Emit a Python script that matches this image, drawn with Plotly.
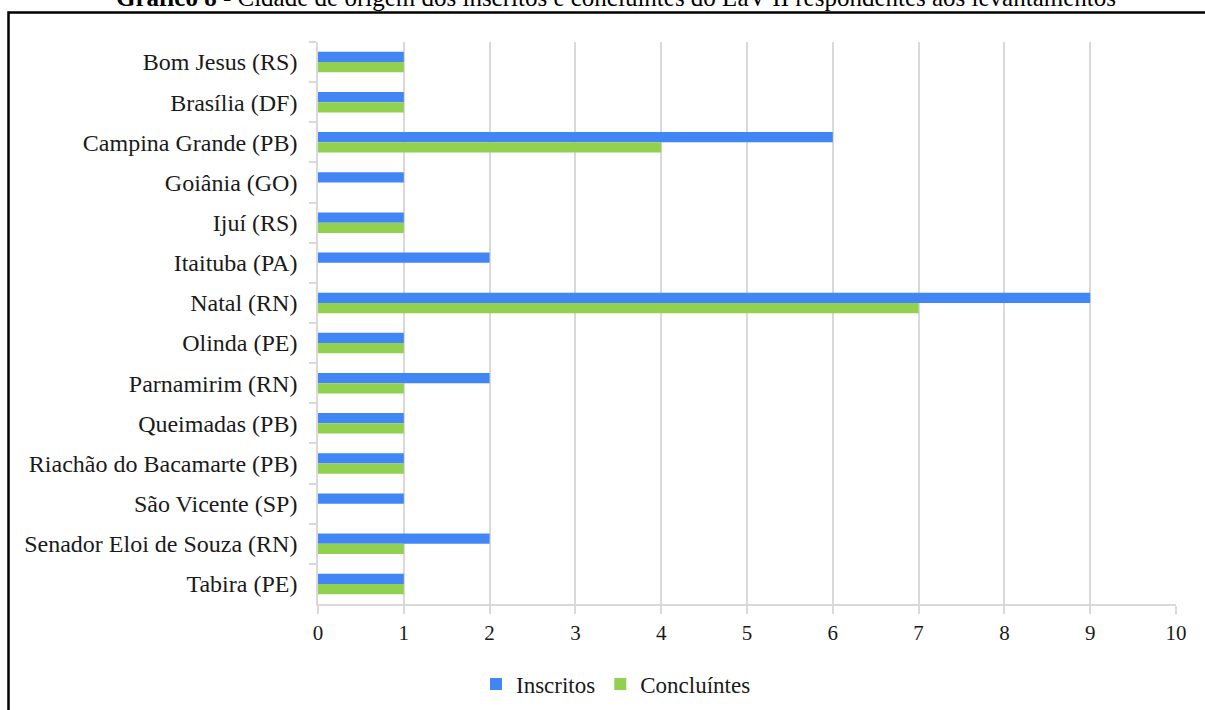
import plotly.graph_objects as go

# City of origin of the respondents (top to bottom)
cidades = [
    "Bom Jesus (RS)", "Brasília (DF)", "Campina Grande (PB)", "Goiânia (GO)",
    "Ijuí (RS)", "Itaituba (PA)", "Natal (RN)", "Olinda (PE)",
    "Parnamirim (RN)", "Queimadas (PB)", "Riachão do Bacamarte (PB)",
    "São Vicente (SP)", "Senador Eloi de Souza (RN)", "Tabira (PE)",
]
inscritos = [1, 1, 6, 1, 1, 2, 9, 1, 2, 1, 1, 1, 2, 1]
concluintes = [1, 1, 4, 0, 1, 0, 7, 1, 1, 1, 1, 0, 1, 1]
x_ticks = list(range(0, 11))

titulo = ("<b>Gráfico 8</b> - Cidade de origem dos inscritos e concluintes "
          "do LaV II respondentes aos levantamentos")

FONT = "Liberation Serif, Times New Roman, serif"
TXT = "#1a1a1a"
GRID = "#d9d9d9"

W, H = 1205, 710
L, R, T, B = 318, 29, 42, 106
PW, PH = W - L - R, H - T - B


def px_x(p):
    return (p - L) / PW


def px_y(p):
    return (H - B - p) / PH


fig = go.Figure()
fig.add_trace(go.Bar(
    y=cidades, x=inscritos, name="Inscritos", orientation="h",
    marker=dict(color="#4285f4", line=dict(width=0)),
))
fig.add_trace(go.Bar(
    y=cidades, x=concluintes, name="Concluíntes", orientation="h",
    marker=dict(color="#92d050", line=dict(width=0)),
))

fig.update_layout(
    width=W, height=H,
    margin=dict(l=L, r=R, t=T, b=B, autoexpand=False),
    paper_bgcolor="white", plot_bgcolor="white",
    barmode="group", bargap=0.49, bargroupgap=0,
    font=dict(family=FONT, size=22, color=TXT),
    showlegend=True,
    legend=dict(
        orientation="h", x=px_x(616), y=px_y(684),
        xanchor="center", yanchor="middle",
        font=dict(family=FONT, size=23, color=TXT),
        itemwidth=30, traceorder="normal",
    ),
    xaxis=dict(
        range=[0, 10], tickvals=x_ticks,
        showgrid=True, gridcolor=GRID, gridwidth=1.5,
        showline=True, linecolor=GRID, linewidth=1.5,
        ticks="outside", ticklen=8, tickcolor=GRID, tickwidth=1.5,
        tickfont=dict(family=FONT, size=21, color=TXT),
        ticklabelstandoff=1, automargin=False,
        zeroline=False, fixedrange=True,
    ),
    yaxis=dict(
        categoryorder="array", categoryarray=cidades, autorange="reversed",
        showgrid=False, showline=True, linecolor=GRID, linewidth=1.5,
        ticks="outside", tickson="boundaries", ticklen=7,
        tickcolor=GRID, tickwidth=1.5,
        tickfont=dict(family=FONT, size=24, color=TXT),
        ticklabelstandoff=14, automargin=False,
    ),
)

# Caption above the frame
fig.add_annotation(
    text=titulo, xref="paper", yref="paper",
    x=px_x(616), y=px_y(13), xanchor="center", yanchor="bottom",
    showarrow=False, font=dict(family=FONT, size=25, color="black"),
)

# Black frame around the chart
fig.add_shape(
    type="rect", xref="paper", yref="paper",
    x0=px_x(8.5), x1=px_x(1215), y0=px_y(725), y1=px_y(12.5),
    line=dict(color="black", width=2.5), fillcolor="rgba(0,0,0,0)",
    layer="above",
)

fig.write_html("out.html")
